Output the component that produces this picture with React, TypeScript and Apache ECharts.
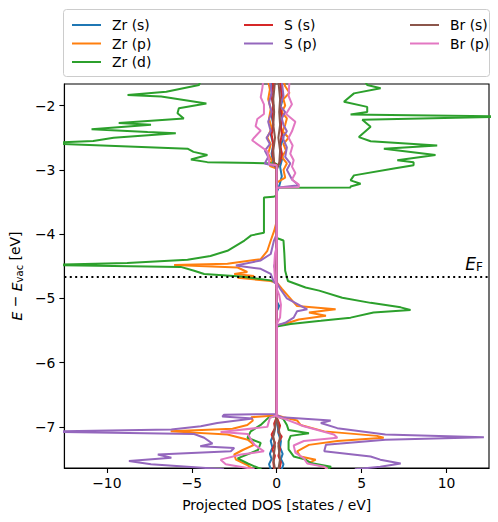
import React, { useEffect, useRef } from "react";
import * as echarts from "echarts";

// Tick values
const xTicks = [-10, -5, 0, 5, 10];
const yTicks = [-7, -6, -5, -4, -3, -2];
const fermiLevel = -4.66;

// Each point: [projected DOS, energy]; spin up positive, spin down negative
const zrS_up: number[][] = [[0.3,-7.66],[0.4,-7.58],[0.25,-7.5],[0.35,-7.42],[0.2,-7.32],[0.25,-7.22],[0.1,-7.1],[0.05,-6.95],[0,-6.85],[0,-5.2],[0.15,-5.12],[0,-5.05],[0,-3.35],[0.15,-3.25],[0.3,-3.1],[0.2,-2.95],[0.35,-2.8],[0.2,-2.65],[0.4,-2.5],[0.25,-2.35],[0.3,-2.2],[0.2,-2.05],[0.35,-1.9],[0.25,-1.75],[0.3,-1.62]];
const zrS_dn: number[][] = [[-0.35,-7.66],[-0.45,-7.58],[-0.3,-7.5],[-0.4,-7.42],[-0.25,-7.32],[-0.35,-7.22],[-0.15,-7.1],[-0.05,-6.95],[0,-6.85],[0,-4.6],[-0.15,-4.5],[0,-4.4],[0,-3.0],[-0.2,-2.9],[-0.3,-2.75],[-0.2,-2.6],[-0.35,-2.45],[-0.2,-2.3],[-0.3,-2.15],[-0.2,-2.0],[-0.3,-1.85],[-0.25,-1.62]];

const zrP_up: number[][] = [[3.0,-7.66],[2.8,-7.62],[1.9,-7.56],[2.3,-7.51],[1.4,-7.46],[1.2,-7.38],[1.9,-7.28],[3.57,-7.22],[6.3,-7.17],[5.9,-7.14],[2.8,-7.07],[1.4,-6.97],[1.2,-6.9],[0.4,-6.85],[0,-6.82],[0,-5.42],[0.7,-5.38],[1.3,-5.33],[2.9,-5.27],[1.9,-5.22],[3.47,-5.17],[1.2,-5.12],[0.8,-5.0],[0.3,-4.85],[0,-4.75],[0,-3.2],[0.5,-3.12],[0.4,-3.0],[0.6,-2.9],[0.3,-2.8],[0.55,-2.7],[0.4,-2.6],[0.7,-2.5],[0.35,-2.4],[0.5,-2.3],[0.6,-2.2],[0.3,-2.1],[0.5,-2.0],[0.4,-1.9],[0.75,-1.8],[0.5,-1.7],[0.4,-1.62]];
const zrP_dn: number[][] = [[-1.4,-7.66],[-1.7,-7.6],[-2.4,-7.51],[-2.5,-7.43],[-2.0,-7.36],[-1.33,-7.28],[-1.7,-7.2],[-2.9,-7.12],[-6.24,-7.07],[-2.6,-7.03],[-1.73,-6.97],[-1.4,-6.9],[-1.5,-6.85],[-0.5,-6.83],[0,-6.82],[0,-4.76],[-0.35,-4.73],[-2.3,-4.68],[-1.33,-4.65],[-2.5,-4.62],[-1.73,-4.59],[-2.3,-4.52],[-6.04,-4.48],[-2.9,-4.46],[-0.94,-4.39],[-0.55,-4.26],[-0.35,-4.1],[-0.15,-3.95],[0,-3.8],[0,-2.98],[-0.4,-2.94],[-0.3,-2.85],[-0.5,-2.75],[-0.35,-2.6],[-0.55,-2.5],[-0.3,-2.35],[-0.45,-2.2],[-0.35,-2.05],[-0.5,-1.9],[-0.4,-1.75],[-0.5,-1.62]];

const zrD_up: number[][] = [[3.0,-7.66],[3.2,-7.62],[2.0,-7.56],[1.7,-7.51],[1.0,-7.46],[0.7,-7.35],[0.7,-7.22],[0.82,-7.14],[1.9,-7.1],[0.7,-7.05],[0.6,-6.97],[0.4,-6.88],[0,-6.83],[0,-5.44],[0.82,-5.4],[2.6,-5.35],[4.35,-5.3],[5.7,-5.22],[7.88,-5.18],[7.3,-5.14],[5.53,-5.07],[3.86,-4.99],[2.5,-4.88],[1.7,-4.83],[0.66,-4.73],[0.5,-4.57],[0.45,-4.3],[0.4,-4.1],[0,-4.06],[0,-3.28],[4.35,-3.275],[4.35,-3.258],[4.94,-3.216],[4.35,-3.164],[4.55,-3.086],[6.9,-2.98],[8.06,-2.93],[8.06,-2.88],[7.1,-2.85],[9.35,-2.77],[6.31,-2.67],[9.45,-2.62],[5.53,-2.555],[4.84,-2.49],[5.53,-2.33],[5.04,-2.22],[14,-2.17],[4.35,-2.14],[5.33,-2.1],[5.33,-2.02],[3.96,-1.94],[4.55,-1.81],[6.12,-1.731],[5.33,-1.68],[5.2,-1.62]];
const zrD_dn: number[][] = [[-0.9,-7.66],[-1.7,-7.57],[-2.3,-7.49],[-1.1,-7.36],[-0.94,-7.25],[-1.72,-7.17],[-1.53,-7.07],[-0.94,-6.97],[-0.5,-6.86],[0,-6.83],[0,-4.75],[-0.35,-4.72],[-2.1,-4.66],[-4.27,-4.62],[-4.86,-4.57],[-5.65,-4.51],[-14,-4.48],[-8.8,-4.45],[-5.25,-4.4],[-3.9,-4.34],[-2.9,-4.26],[-1.9,-4.1],[-1.5,-4.02],[-0.75,-3.98],[-0.75,-3.43],[-0.2,-3.42],[0,-3.4],[0,-2.91],[-0.16,-2.9],[-4.08,-2.88],[-5.05,-2.84],[-4.08,-2.77],[-4.9,-2.72],[-5.25,-2.67],[-14,-2.585],[-10.8,-2.55],[-9.6,-2.5],[-5.94,-2.43],[-7.6,-2.41],[-10.9,-2.37],[-7.4,-2.3],[-9.3,-2.27],[-5.47,-2.2],[-5.84,-2.12],[-5.76,-2.04],[-4.14,-1.966],[-6.8,-1.86],[-8.78,-1.836],[-6.5,-1.785],[-4.57,-1.68],[-4.5,-1.62]];

const sS_up: number[][] = [[0.15,-7.66],[0.25,-7.55],[0.1,-7.45],[0.2,-7.35],[0.1,-7.25],[0.3,-7.15],[0.1,-7.08],[0.2,-6.98],[0,-6.85],[0,-2.95],[0.2,-2.88],[0.3,-2.75],[0.2,-2.6],[0.3,-2.45],[0.25,-2.3],[0.3,-2.15],[0.2,-2.0],[0.3,-1.85],[0.25,-1.7],[0.2,-1.62]];
const sS_dn: number[][] = [[-0.15,-7.66],[-0.2,-7.55],[-0.1,-7.45],[-0.25,-7.35],[-0.1,-7.25],[-0.3,-7.12],[-0.1,-7.02],[-0.15,-6.95],[0,-6.85],[0,-2.95],[-0.15,-2.88],[-0.25,-2.75],[-0.2,-2.6],[-0.3,-2.45],[-0.2,-2.3],[-0.25,-2.15],[-0.2,-2.0],[-0.3,-1.85],[-0.2,-1.7],[-0.25,-1.62]];

const sP_up: number[][] = [[4.6,-7.66],[6.1,-7.62],[7.3,-7.57],[6.1,-7.51],[5.53,-7.46],[2.8,-7.38],[2.9,-7.28],[6.4,-7.2],[12.2,-7.16],[6.4,-7.12],[3.57,-7.02],[2.6,-6.94],[3.18,-6.9],[0.3,-6.85],[0,-6.82],[0,-5.42],[0.5,-5.38],[1.0,-5.3],[1.2,-5.2],[1.8,-5.17],[0.6,-5.0],[0.2,-4.85],[0,-4.75],[0,-3.28],[1.3,-3.24],[0.9,-3.15],[0.6,-3.0],[0.8,-2.9],[0.5,-2.8],[0.6,-2.65],[0.35,-2.5],[0.6,-2.4],[0.4,-2.3],[0.3,-2.2],[0.5,-2.1],[0.2,-2.0],[0.4,-1.85],[0.3,-1.62]];
const sP_dn: number[][] = [[-3.1,-7.66],[-7.4,-7.58],[-8.7,-7.53],[-6.2,-7.48],[-7.0,-7.43],[-2.7,-7.38],[-2.5,-7.33],[-4.5,-7.3],[-3.78,-7.26],[-4.27,-7.17],[-4.86,-7.11],[-14,-7.075],[-6.2,-7.04],[-4.47,-6.99],[-3.5,-6.94],[-1.4,-6.87],[-3.2,-6.84],[-3.1,-6.81],[0,-6.8],[0,-4.78],[-0.16,-4.75],[-0.35,-4.62],[-0.94,-4.54],[-2.4,-4.49],[-0.94,-4.41],[-0.35,-4.31],[-0.16,-4.1],[0,-4.0],[0,-2.95],[-0.7,-2.9],[-0.5,-2.8],[-0.7,-2.7],[-0.4,-2.6],[-0.6,-2.5],[-0.35,-2.4],[-0.5,-2.25],[-0.3,-2.1],[-0.45,-1.95],[-0.3,-1.8],[-0.4,-1.62]];

const brS_up: number[][] = [[0.1,-7.66],[0.2,-7.5],[0.1,-7.3],[0.2,-7.15],[0.1,-7.0],[0,-6.85],[0,-3.0],[0.15,-2.9],[0.2,-2.7],[0.1,-2.5],[0.2,-2.3],[0.15,-2.1],[0.2,-1.9],[0.1,-1.62]];
const brS_dn: number[][] = [[-0.1,-7.66],[-0.2,-7.5],[-0.1,-7.3],[-0.2,-7.15],[-0.1,-7.0],[0,-6.85],[0,-3.0],[-0.15,-2.9],[-0.2,-2.7],[-0.1,-2.5],[-0.2,-2.3],[-0.15,-2.1],[-0.2,-1.9],[-0.1,-1.62]];

const brP_up: number[][] = [[3.0,-7.66],[2.8,-7.62],[1.8,-7.57],[1.6,-7.49],[1.1,-7.4],[1.0,-7.29],[1.6,-7.22],[3.57,-7.17],[3.37,-7.12],[1.6,-6.99],[0.5,-6.88],[0,-6.84],[0,-5.4],[0.2,-5.3],[0.25,-5.1],[0.15,-4.95],[0,-4.85],[0,-3.28],[1.3,-3.27],[1.3,-3.23],[0.9,-3.15],[1.1,-3.05],[0.9,-2.95],[1.0,-2.85],[0.8,-2.75],[0.94,-2.62],[0.7,-2.5],[0.9,-2.4],[1.1,-2.25],[0.55,-2.13],[0.9,-1.98],[0.7,-1.85],[0.75,-1.62]];
const brP_dn: number[][] = [[-1.3,-7.66],[-3.0,-7.58],[-3.3,-7.51],[-2.1,-7.43],[-0.75,-7.38],[-1.3,-7.28],[-1.5,-7.2],[-1.7,-7.11],[-3.3,-7.08],[-0.55,-7.0],[-0.4,-6.86],[0,-6.82],[0,-4.8],[-0.1,-4.7],[-0.15,-4.5],[-0.1,-4.3],[0,-4.2],[0,-2.93],[-0.45,-2.91],[-0.45,-2.84],[-0.55,-2.71],[-1.45,-2.54],[-1.33,-2.5],[-0.94,-2.39],[-1.24,-2.32],[-1.14,-2.21],[-0.75,-2.13],[-0.75,-1.98],[-0.94,-1.87],[-0.84,-1.72],[-0.8,-1.62]];

const orbitals = [
  { name: "Zr (s)", color: "#1f77b4", up: zrS_up, dn: zrS_dn },
  { name: "Zr (p)", color: "#ff7f0e", up: zrP_up, dn: zrP_dn },
  { name: "Zr (d)", color: "#2ca02c", up: zrD_up, dn: zrD_dn },
  { name: "S (s)", color: "#d62728", up: sS_up, dn: sS_dn },
  { name: "S (p)", color: "#9467bd", up: sP_up, dn: sP_dn },
  { name: "Br (s)", color: "#8c564b", up: brS_up, dn: brS_dn },
  { name: "Br (p)", color: "#e377c2", up: brP_up, dn: brP_dn },
];

const legendCols = [
  ["Zr (s)", "Zr (p)", "Zr (d)"],
  ["S (s)", "S (p)"],
  ["Br (s)", "Br (p)"],
];
const legendLefts = [67, 239, 405];

const FONT = "DejaVu Sans";
const fmt = (v: number) => String(v).replace("-", "\u2212");

export default function App() {
  const ref = useRef<HTMLDivElement>(null);
  useEffect(() => {
    if (!ref.current) return;
    const chart = echarts.init(ref.current, undefined, { renderer: "svg" });
    const series: any[] = [];
    orbitals.forEach((o, i) => {
      [o.up, o.dn].forEach((d) => {
        series.push({
          type: "line",
          name: o.name,
          data: d,
          color: o.color,
          showSymbol: false,
          symbol: "none",
          clip: true,
          lineStyle: { color: o.color, width: 2 },
          z: 2 + i,
          silent: true,
        });
      });
    });
    series.push({
      type: "line",
      name: "fermi",
      data: [],
      silent: true,
      markLine: {
        symbol: "none",
        silent: true,
        data: [{ yAxis: fermiLevel }],
        lineStyle: { type: [2, 3.4], color: "#000", width: 2 },
        label: {
          show: true,
          position: "insideEndTop",
          distance: [6, 4],
          formatter: "{e|E}{f|F}",
          rich: {
            e: { fontStyle: "italic", fontSize: 17, fontFamily: FONT, color: "#000", lineHeight: 20, verticalAlign: "bottom" },
            f: { fontSize: 12, fontFamily: FONT, color: "#000", lineHeight: 8, verticalAlign: "bottom" },
          },
        },
      },
      z: 20,
    });

    const option: any = {
      animation: false,
      grid: { left: 63, right: 9, top: 84, bottom: 54, show: true, borderColor: "#000", borderWidth: 1.1, backgroundColor: "transparent" },
      legend: legendCols.map((col, k) => ({
        data: col,
        orient: "vertical",
        left: legendLefts[k],
        top: 13,
        itemWidth: 29,
        itemHeight: 2,
        itemGap: 4.5,
        icon: "rect",
        selectedMode: false,
        textStyle: { fontFamily: FONT, fontSize: 13.9, color: "#000", padding: [0, 0, 0, 6] },
      })),
      graphic: [
        {
          type: "rect",
          left: 63,
          top: 9,
          shape: { width: 426, height: 67, r: 3 },
          style: { fill: "#fff", stroke: "#cccccc", lineWidth: 1 },
          z: -1,
        },
      ],
      xAxis: {
        type: "value",
        min: -12.5,
        max: 12.5,
        splitLine: { show: false },
        axisLine: { show: true, onZero: false, lineStyle: { color: "#000", width: 1.1 } },
        axisTick: { show: true, length: 5, customValues: xTicks, lineStyle: { color: "#000", width: 1.1 } },
        axisLabel: { customValues: xTicks, formatter: fmt, color: "#000", fontSize: 13.9, fontFamily: FONT, margin: 8 },
        name: "Projected DOS [states / eV]",
        nameLocation: "middle",
        nameGap: 30,
        nameTextStyle: { fontFamily: FONT, fontSize: 13.9, color: "#000" },
      },
      yAxis: {
        type: "value",
        min: -7.64,
        max: -1.664,
        splitLine: { show: false },
        axisLine: { show: true, onZero: false, lineStyle: { color: "#000", width: 1.1 } },
        axisTick: { show: true, length: 5, customValues: yTicks, lineStyle: { color: "#000", width: 1.1 } },
        axisLabel: { customValues: yTicks, formatter: fmt, color: "#000", fontSize: 13.9, fontFamily: FONT, margin: 9 },
        name: "{i|E} \u2212 {i|E}{s|vac} [eV]",
        nameLocation: "middle",
        nameRotate: 90,
        nameGap: 36,
        nameTextStyle: {
          fontFamily: FONT,
          fontSize: 13.9,
          color: "#000",
          rich: {
            i: { fontStyle: "italic", fontFamily: FONT, fontSize: 13.9, color: "#000", lineHeight: 18, verticalAlign: "bottom" },
            s: { fontFamily: FONT, fontSize: 10, color: "#000", lineHeight: 6, verticalAlign: "bottom" },
          },
        },
      },
      series,
    };
    chart.setOption(option);
    return () => chart.dispose();
  }, []);
  return <div ref={ref} style={{ position: "absolute", left: 0, top: 0, width: 498, height: 522 }} />;
}
